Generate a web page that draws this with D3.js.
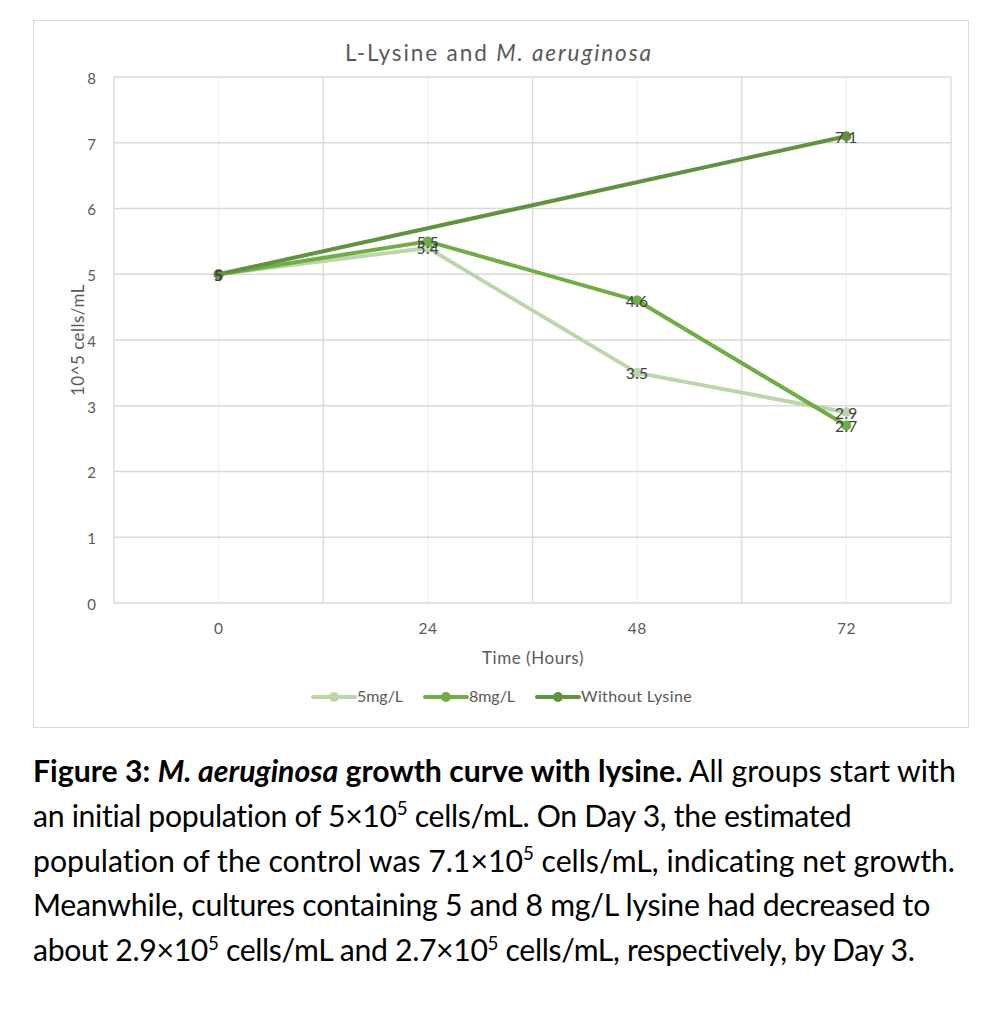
<!DOCTYPE html>
<html><head><meta charset="utf-8">
<script src="https://cdn.jsdelivr.net/npm/d3@7"></script>
<style>body{margin:0;background:#fff}svg{display:block}</style>
</head><body>
<svg id="c" width="997" height="1013"></svg>
<script>
const categories = ["0", "24", "48", "72"];
const yTicks = [0, 1, 2, 3, 4, 5, 6, 7, 8];
const seriesNames = ["5mg/L", "8mg/L", "Without Lysine"];
const lysine5 = [5, 5.4, 3.5, 2.9];
const lysine8 = [5, 5.5, 4.6, 2.7];
const withoutLysine = [5, null, null, 7.1];
const seriesColors = ["#BCD5AB", "#70AD47", "#62923F"];

const series = [lysine5, lysine8, withoutLysine].map((vals, i) => ({
  name: seriesNames[i], color: seriesColors[i],
  pts: vals.map((v, j) => ({c: categories[j], v})).filter(d => d.v !== null)
}));

const FONT = "Lato, 'Open Sans', sans-serif";
const svg = d3.select("#c");
const L = 114, R = 951, T = 77, B = 603;

// fit a text's width via letter-spacing
function fitWidth(sel, target) {
  const n = sel.node();
  const w = n.getComputedTextLength();
  const chars = n.textContent.length;
  sel.attr("letter-spacing", ((target - w) / chars).toFixed(3));
  return sel;
}

// chart frame
svg.append("rect").attr("x", 33.5).attr("y", 20.5).attr("width", 935).attr("height", 707)
  .attr("fill", "#fff").attr("stroke", "#D9D9D9");

const x = d3.scaleBand().domain(categories).range([L, R]).padding(0);
const y = d3.scaleLinear().domain([0, 8]).range([B, T]);
const cx = c => x(c) + x.bandwidth() / 2;

// minor vertical gridlines (category centres)
svg.append("g").selectAll("line").data(categories).join("line")
  .attr("x1", d => cx(d)).attr("x2", d => cx(d)).attr("y1", T).attr("y2", B)
  .attr("stroke", "#EFEFEF").attr("stroke-width", 1.3);
// major vertical gridlines (category boundaries)
const edges = categories.map(c => x(c)).concat([x(categories[categories.length - 1]) + x.bandwidth()]);
svg.append("g").selectAll("line").data(edges).join("line")
  .attr("x1", d => d).attr("x2", d => d).attr("y1", T).attr("y2", B)
  .attr("stroke", "#D9D9D9").attr("stroke-width", 1.3);
// horizontal gridlines
svg.append("g").selectAll("line").data(yTicks).join("line")
  .attr("x1", L).attr("x2", R).attr("y1", d => y(d)).attr("y2", d => y(d))
  .attr("stroke", "#D9D9D9").attr("stroke-width", 1.3);

// y axis labels
const yAxis = svg.append("g").attr("transform", `translate(${L},1.5)`)
  .call(d3.axisLeft(y).tickValues(yTicks).tickSize(0).tickPadding(18).tickFormat(d3.format("d")));
yAxis.select(".domain").remove();
yAxis.selectAll("text").attr("font-family", FONT).attr("font-size", 15).attr("fill", "#595959");

// x axis labels
const xAxis = svg.append("g").attr("transform", `translate(0,${B})`)
  .call(d3.axisBottom(x).tickSize(0).tickPadding(20));
xAxis.select(".domain").remove();
xAxis.selectAll("text").attr("font-family", FONT).attr("font-size", 15.5).attr("fill", "#595959")
  .attr("letter-spacing", 0.5);

// titles
const title = svg.append("text").attr("x", 499).attr("y", 61).attr("text-anchor", "middle")
  .attr("font-family", FONT).attr("font-size", 22.5).attr("fill", "#595959");
title.append("tspan").text("L-Lysine and ");
title.append("tspan").attr("font-style", "italic").text("M. aeruginosa");
fitWidth(title, 308);

fitWidth(svg.append("text").attr("x", 533).attr("y", 664).attr("text-anchor", "middle")
  .attr("font-family", FONT).attr("font-size", 17).attr("fill", "#595959").text("Time (Hours)"), 102);
fitWidth(svg.append("text").attr("transform", `translate(84,${340}) rotate(-90)`).attr("text-anchor", "middle")
  .attr("font-family", FONT).attr("font-size", 17).attr("fill", "#595959").text("10^5 cells/mL"), 112);

// lines
const line = d3.line().x(d => cx(d.c)).y(d => y(d.v));
series.forEach(s => {
  svg.append("path").datum(s.pts).attr("d", line).attr("fill", "none")
    .attr("stroke", s.color).attr("stroke-width", 4).attr("stroke-linejoin", "round").attr("stroke-linecap", "round");
  svg.append("g").selectAll("circle").data(s.pts).join("circle")
    .attr("cx", d => cx(d.c)).attr("cy", d => y(d.v)).attr("r", 5).attr("fill", s.color);
});
// data labels
series.forEach(s => {
  svg.append("g").selectAll("text").data(s.pts).join("text")
    .attr("x", d => cx(d.c)).attr("y", d => y(d.v) + 6.5).attr("text-anchor", "middle")
    .attr("font-family", FONT).attr("font-size", 15.5).attr("fill", "#404040").attr("letter-spacing", 0.3)
    .text(d => d3.format("")(d.v));
});

// legend
const lg = svg.append("g");
const legendTextW = [46, 46, 111];
const sample = 42, gap = 2, spacing = 22;
const total = d3.sum(legendTextW) + seriesNames.length * (sample + gap) + spacing * (seriesNames.length - 1);
let lx = 502.5 - total / 2;
const ly = 697;
series.forEach((s, i) => {
  lg.append("line").attr("x1", lx).attr("x2", lx + sample).attr("y1", ly).attr("y2", ly)
    .attr("stroke", s.color).attr("stroke-width", 4).attr("stroke-linecap", "round");
  lg.append("circle").attr("cx", lx + sample / 2).attr("cy", ly).attr("r", 5).attr("fill", s.color);
  fitWidth(lg.append("text").attr("x", lx + sample + gap).attr("y", ly + 5)
    .attr("font-family", FONT).attr("font-size", 16).attr("fill", "#595959").text(s.name), legendTextW[i]);
  lx += sample + gap + legendTextW[i] + spacing;
});

// caption
const lines = [
  [["Figure 3: ", "b"], ["M. aeruginosa", "bi"], [" growth curve with lysine.", "b"], [" All groups start with", ""]],
  [["an initial population of 5×10", ""], ["5", "sup"], [" cells/mL. On Day 3, the estimated", ""]],
  [["population of the control was 7.1×10", ""], ["5", "sup"], [" cells/mL, indicating net growth.", ""]],
  [["Meanwhile, cultures containing 5 and 8 mg/L lysine had decreased to", ""]],
  [["about 2.9×10", ""], ["5", "sup"], [" cells/mL and 2.7×10", ""], ["5", "sup"], [" cells/mL, respectively, by Day 3.", ""]]
];
const lineEnds = [956, 853, 956, 930, 915];
const cap = svg.append("g");
function drawLine(parts, yy, fs) {
  const t = cap.append("text").attr("x", 33).attr("y", yy).attr("font-family", FONT)
    .attr("font-size", fs).attr("fill", "#000");
  let prevSup = false;
  parts.forEach(([txt, st]) => {
    const ts = t.append("tspan").text(txt);
    if (st.includes("b")) ts.attr("font-weight", "bold");
    if (st.includes("i")) ts.attr("font-style", "italic");
    if (st === "sup") { ts.attr("font-size", fs * 0.62).attr("dy", -fs * 0.38); prevSup = true; }
    else if (prevSup) { ts.attr("dy", fs * 0.38); prevSup = false; }
  });
  return t;
}
const probe = drawLine(lines[0], 782, 24);
const fs = 24 * (lineEnds[0] - 33) / probe.node().getComputedTextLength();
probe.remove();
lines.forEach((ln, i) => {
  const t = drawLine(ln, 782 + i * 44.8, fs);
  if (i > 0) fitWidth(t, lineEnds[i] - 33);
});
</script>
</body></html>
